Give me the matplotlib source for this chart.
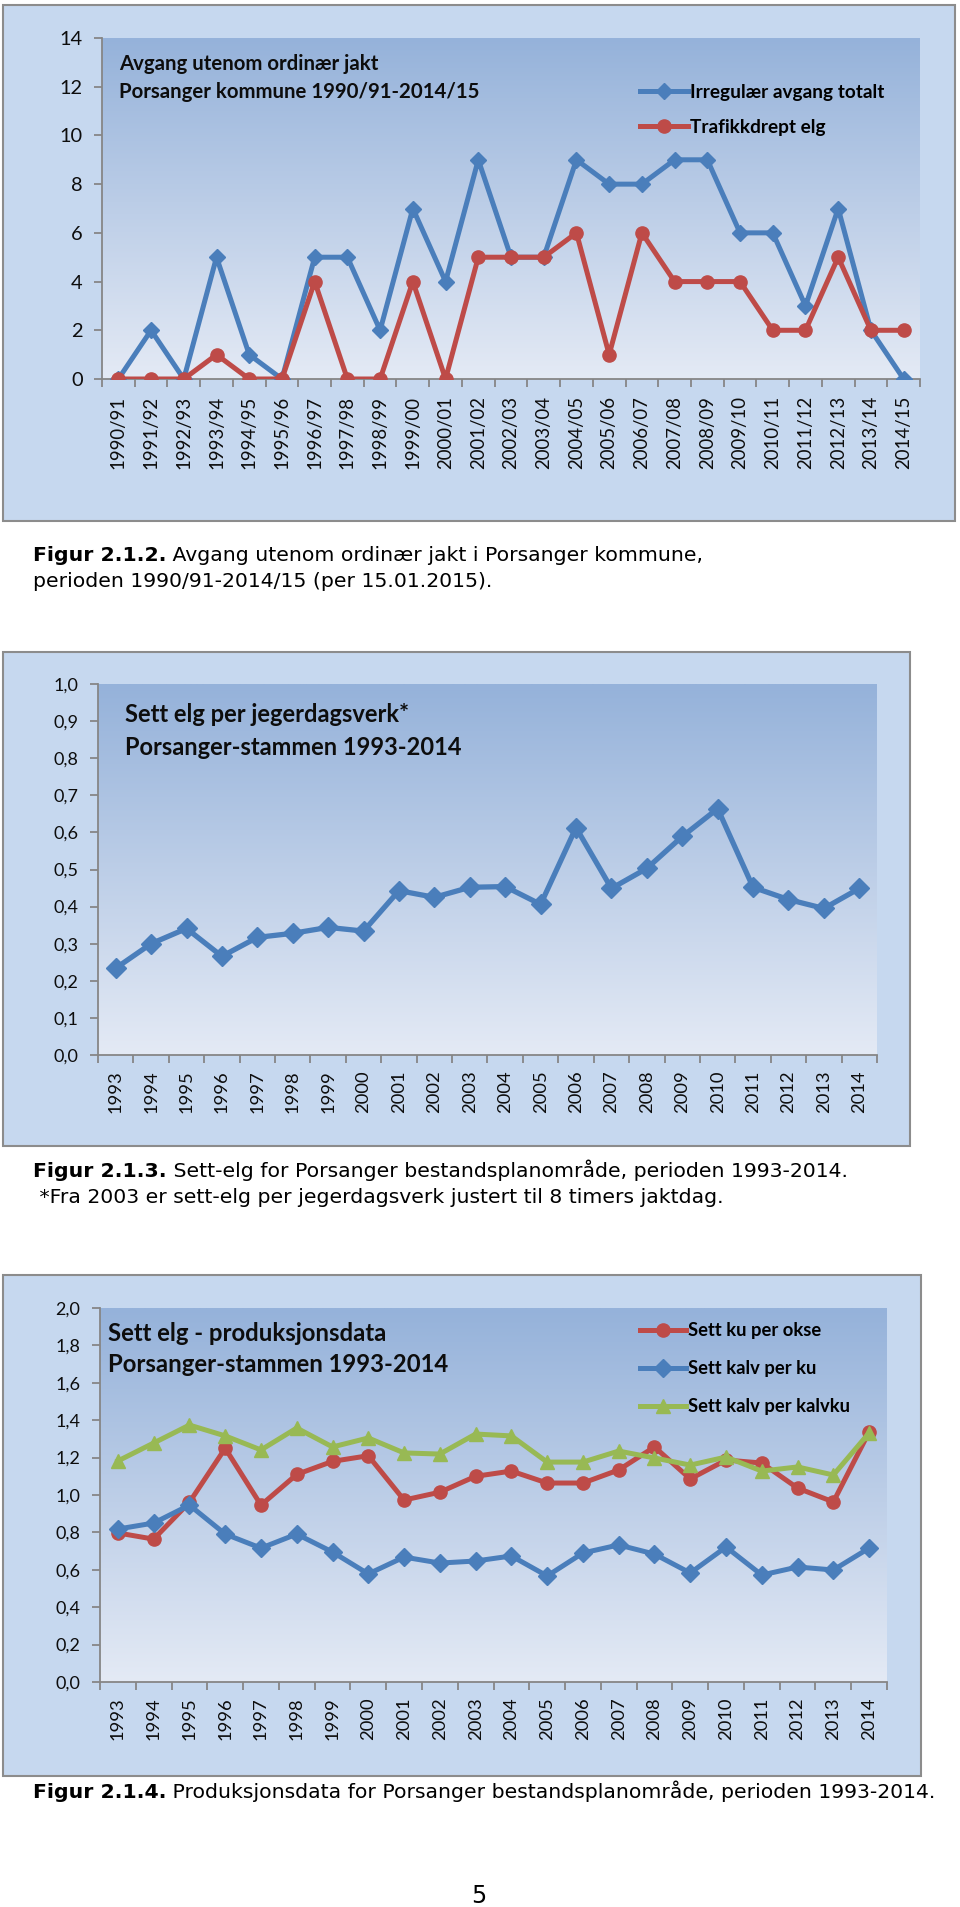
import numpy as np
import matplotlib.pyplot as plt
from matplotlib.patches import Rectangle
from matplotlib.colors import to_rgb
from matplotlib.ticker import FuncFormatter

W, H = 960, 1907

# Figur 2.1.2 - avgang utenom ordinaer jakt
seasons = ['1990/91', '1991/92', '1992/93', '1993/94', '1994/95', '1995/96', '1996/97',
           '1997/98', '1998/99', '1999/00', '2000/01', '2001/02', '2002/03', '2003/04',
           '2004/05', '2005/06', '2006/07', '2007/08', '2008/09', '2009/10', '2010/11',
           '2011/12', '2012/13', '2013/14', '2014/15']
irregular_total = [0, 2, 0, 5, 1, 0, 5, 5, 2, 7, 4, 9, 5, 5, 9, 8, 8, 9, 9, 6, 6, 3, 7, 2, 0]
traffic_killed = [0, 0, 0, 1, 0, 0, 4, 0, 0, 4, 0, 5, 5, 5, 6, 1, 6, 4, 4, 4, 2, 2, 5, 2, 2]

# Figur 2.1.3 - sett elg per jegerdagsverk
years = ['1993', '1994', '1995', '1996', '1997', '1998', '1999', '2000', '2001', '2002', '2003',
         '2004', '2005', '2006', '2007', '2008', '2009', '2010', '2011', '2012', '2013', '2014']
seen_per_day = [0.234, 0.300, 0.341, 0.266, 0.317, 0.328, 0.344, 0.334, 0.443, 0.425, 0.452,
                0.454, 0.406, 0.613, 0.449, 0.503, 0.589, 0.664, 0.452, 0.419, 0.395, 0.449]

# Figur 2.1.4 - produksjonsdata
cow_per_bull = [0.797, 0.764, 0.961, 1.250, 0.946, 1.110, 1.180, 1.210, 0.973, 1.015, 1.100,
                1.128, 1.064, 1.064, 1.134, 1.257, 1.086, 1.187, 1.171, 1.037, 0.963, 1.337]
calf_per_cow = [0.818, 0.850, 0.946, 0.791, 0.716, 0.791, 0.695, 0.578, 0.668, 0.636, 0.647,
                0.674, 0.567, 0.690, 0.733, 0.684, 0.583, 0.722, 0.572, 0.615, 0.599, 0.716]
calf_per_calfcow = [1.182, 1.278, 1.374, 1.316, 1.241, 1.358, 1.257, 1.305, 1.225, 1.219, 1.326,
                    1.316, 1.176, 1.176, 1.235, 1.198, 1.160, 1.203, 1.128, 1.150, 1.107, 1.332]

BLUE = '#4A7EBB'
RED = '#BE4B48'
GREEN = '#98B954'
PANEL = '#C6D8EF'
GRAD_TOP = '#95B2DA'
GRAD_BOT = '#E4EAF5'
AXIS = '#868686'
FONT = 'Lato'
CAP_FONT = 'DejaVu Sans'
CAP_FS = 14.7

fig = plt.figure(figsize=(W / 100, H / 100), dpi=100)
fig.patch.set_facecolor('white')


def panel(x0, y0, x1, y1):
    fig.add_artist(Rectangle((x0 / W, 1 - y1 / H), (x1 - x0) / W, (y1 - y0) / H,
                             transform=fig.transFigure, facecolor=PANEL,
                             edgecolor='#8C8C8C', linewidth=1.5, zorder=-5))


def comma(v, pos):
    return f'{v:.1f}'.replace('.', ',')


def chart(x0, y0, x1, y1, labels, ymax, ystep, fmt, xfs, yfs, xpad):
    ax = fig.add_axes([x0 / W, 1 - y1 / H, (x1 - x0) / W, (y1 - y0) / H])
    ax.set_facecolor('none')
    t = np.linspace(0, 1, 256)[:, None]
    img = (1 - t) * np.array(to_rgb(GRAD_TOP)) + t * np.array(to_rgb(GRAD_BOT))
    ax.imshow(img[:, None, :].repeat(2, axis=1), extent=[0, 1, 0, 1], transform=ax.transAxes,
              aspect='auto', zorder=0, interpolation='bilinear')
    n = len(labels)
    ax.set_xlim(-0.5, n - 0.5)
    ax.set_ylim(0, ymax)
    for s in ['top', 'right']:
        ax.spines[s].set_visible(False)
    for s in ['left', 'bottom']:
        ax.spines[s].set_color(AXIS)
        ax.spines[s].set_linewidth(1.3)
    ax.set_xticks(range(n))
    ax.set_xticklabels(labels, rotation=90, fontsize=xfs, family=FONT, color='#0d0d0d')
    ax.tick_params(axis='x', which='major', length=0, pad=xpad)
    ax.set_xticks(np.arange(n + 1) - 0.5, minor=True)
    ax.tick_params(axis='x', which='minor', length=6, width=1.3, color=AXIS, direction='out')
    ax.set_yticks(np.arange(0, ymax + ystep / 2, ystep))
    ax.yaxis.set_major_formatter(FuncFormatter(fmt))
    ax.tick_params(axis='y', length=6, width=1.3, color=AXIS, pad=8, labelsize=yfs,
                   labelcolor='#0d0d0d')
    for lab in ax.get_yticklabels():
        lab.set_family(FONT)
    return ax


def title(x, y1, y2, line1, line2, fs):
    fig.text(x / W, 1 - y1 / H, line1, fontsize=fs, fontweight='bold', family=FONT,
             va='baseline', color='#0d0d0d')
    fig.text(x / W, 1 - y2 / H, line2, fontsize=fs, fontweight='bold', family=FONT,
             va='baseline', color='#0d0d0d')


renderer = fig.canvas.get_renderer()


def caption(x, y, bold, rest):
    weight = 'bold' if rest else 'normal'
    t = fig.text(x / W, 1 - y / H, bold, fontsize=CAP_FS, fontweight=weight, family=CAP_FONT,
                 va='baseline')
    if rest:
        bb = t.get_window_extent(renderer)
        fig.text(bb.x1 / W, 1 - y / H, ' ' + rest, fontsize=CAP_FS, family=CAP_FONT,
                 va='baseline')


def legend(ax, handles, labels, top, fs, spacing):
    ax.legend(handles, labels, loc='upper left', bbox_to_anchor=(640 / W, 1 - top / H),
              bbox_transform=fig.transFigure, frameon=False, handlelength=2.5,
              handletextpad=0.12, labelspacing=spacing, borderpad=0, borderaxespad=0,
              prop={'family': FONT, 'weight': 'bold', 'size': fs})


# ---- Figur 2.1.2 ----
panel(3, 5, 955, 521)
ax1 = chart(102, 38, 920, 379, seasons, 14, 2, lambda v, p: f'{v:.0f}', 13.4, 14.4, 12)
l1, = ax1.plot(range(len(seasons)), irregular_total, color=BLUE, lw=3.6, marker='D', ms=8.5,
               zorder=3)
l2, = ax1.plot(range(len(seasons)), traffic_killed, color=RED, lw=3.6, marker='o', ms=9.5,
               zorder=4)
legend(ax1, [l1, l2], ['Irregulær avgang totalt', 'Trafikkdrept elg'], 84, 13.7, 0.95)
title(119, 70, 98, 'Avgang utenom ordinær jakt', 'Porsanger kommune 1990/91-2014/15', 14.7)
caption(33, 561, 'Figur 2.1.2.', 'Avgang utenom ordinær jakt i Porsanger kommune,')
caption(33, 587, 'perioden 1990/91-2014/15 (per 15.01.2015).', '')

# ---- Figur 2.1.3 ----
panel(3, 652, 910, 1146)
ax2 = chart(98, 684, 877, 1055, years, 1.0, 0.1, comma, 13.2, 13.0, 11)
ax2.plot(range(len(years)), seen_per_day, color=BLUE, lw=3.8, marker='D', ms=10.5, zorder=3)
title(125, 722, 755, 'Sett elg per jegerdagsverk*', 'Porsanger-stammen 1993-2014', 17.0)
caption(33, 1177, 'Figur 2.1.3.', 'Sett-elg for Porsanger bestandsplanområde, perioden 1993-2014.')
caption(33, 1203, ' *Fra 2003 er sett-elg per jegerdagsverk justert til 8 timers jaktdag.', '')

# ---- Figur 2.1.4 ----
panel(3, 1275, 921, 1776)
ax3 = chart(100, 1308, 887, 1682, years, 2.0, 0.2, comma, 13.2, 13.0, 11)
xs = range(len(years))
r, = ax3.plot(xs, cow_per_bull, color=RED, lw=3.6, marker='o', ms=9.5, zorder=3)
b, = ax3.plot(xs, calf_per_cow, color=BLUE, lw=3.6, marker='D', ms=9, zorder=4)
g, = ax3.plot(xs, calf_per_calfcow, color=GREEN, lw=3.6, marker='^', ms=9.5, zorder=5)
legend(ax3, [r, b, g], ['Sett ku per okse', 'Sett kalv per ku', 'Sett kalv per kalvku'],
       1322, 13.2, 1.15)
title(108, 1341, 1372, 'Sett elg - produksjonsdata', 'Porsanger-stammen 1993-2014', 17.2)
caption(33, 1798, 'Figur 2.1.4.', 'Produksjonsdata for Porsanger bestandsplanområde, perioden 1993-2014.')

fig.text(479 / W, 1 - 1903 / H, '5', fontsize=17, family=CAP_FONT, ha='center', va='baseline')

fig.savefig('out.png', dpi=100)
